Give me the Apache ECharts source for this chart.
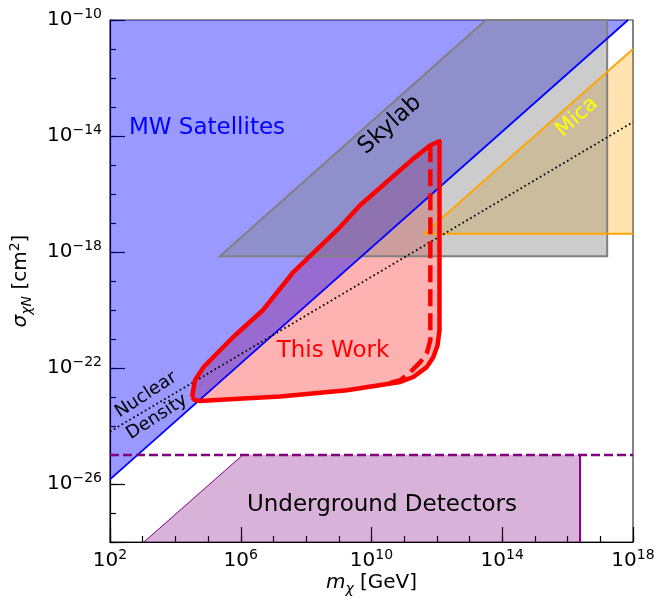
<!DOCTYPE html>
<html>
<head>
<meta charset="utf-8">
<script src="https://cdn.jsdelivr.net/npm/echarts@6/dist/echarts.min.js"></script>
<style>
  html, body { margin: 0; padding: 0; background: #fff; }
  #chart { width: 667px; height: 598px; }
</style>
</head>
<body>
<div id="chart"></div>
<script>
// every value is a log10 exponent: x = log10(m / GeV), y = log10(sigma / cm^2)
const X_TICK_LABELS = [2, 6, 10, 14, 18];
const Y_TICK_LABELS = [-26, -22, -18, -14, -10];

const mwSatellites = [[2, -25.84], [17.85, -10], [2, -10]];
const mwEdge = [[2, -25.84], [17.85, -10]];
const skylab = [[5.36, -18.15], [13.5, -10], [17.21, -10], [17.21, -18.15]];
const mica = [[11.61, -17.37], [18, -11.0], [18, -17.37]];
const micaEdge = [[18, -11.0], [11.61, -17.37], [18, -17.37]];
const underground = [[3.04, -28], [6.06, -25], [16.38, -25], [16.38, -28]];
const undergroundDiag = [[3.04, -28], [6.06, -25]];
const undergroundEdge = [[16.38, -25], [16.38, -28]];
const undergroundLimit = [[2, -25], [18, -25]];
const nuclearDensity = [[2, -24.19], [18, -13.52]];

const thisWork = [
  [4.51, -23.0], [4.53, -22.88], [4.60, -22.42], [4.86, -21.97], [5.27, -21.50],
  [5.77, -20.93], [6.69, -19.99], [7.61, -18.69], [9.04, -17.14], [9.65, -16.39],
  [11.28, -14.78], [11.80, -14.32], [12.08, -14.18], [12.08, -20.70], [12.02, -21.22],
  [11.89, -21.63], [11.69, -21.97], [11.28, -22.31], [10.88, -22.48], [9.25, -22.77],
  [7.20, -22.98], [5.67, -23.08], [4.75, -23.14], [4.59, -23.10], [4.51, -23.0]
];
const thisWorkDashed = [
  [11.80, -14.32], [11.80, -21.05], [11.70, -21.46], [11.49, -21.80],
  [11.18, -22.15], [10.88, -22.42], [10.42, -22.56]
];

const FONT = '"DejaVu Sans"';

function polygon(pts, fill, stroke, lineWidth) {
  return {
    type: 'custom',
    coordinateSystem: 'cartesian2d',
    silent: true,
    data: pts,
    renderItem: function (params, api) {
      if (params.dataIndex !== 0) return null;
      return {
        type: 'polygon',
        shape: { points: pts.map(function (p) { return api.coord(p); }) },
        style: { fill: fill, stroke: stroke || 'none', lineWidth: lineWidth || 0 }
      };
    }
  };
}

function line(pts, color, width, type) {
  return {
    type: 'line',
    data: pts,
    symbol: 'none',
    silent: true,
    lineStyle: { color: color, width: width, type: type || 'solid', join: 'round', cap: 'butt' }
  };
}

function label(text, x, y, color, size, deg) {
  return {
    type: 'text', x: x, y: y, z: 100, silent: true,
    rotation: (deg || 0) * Math.PI / 180,
    style: { text: text, fill: color, fontSize: size, fontFamily: FONT, align: 'center', verticalAlign: 'middle' }
  };
}

const tickRich = {
  b: { fontSize: 20, lineHeight: 26, fontFamily: FONT, color: '#000' },
  s: { fontSize: 14, lineHeight: 16, verticalAlign: 'top', fontFamily: FONT, color: '#000' }
};
const nameRich = {
  i: { fontSize: 20, lineHeight: 26, fontStyle: 'italic', fontFamily: FONT, color: '#000' },
  n: { fontSize: 20, lineHeight: 26, fontFamily: FONT, color: '#000' },
  sub: { fontSize: 14, lineHeight: 14, verticalAlign: 'bottom', fontStyle: 'italic', fontFamily: FONT, color: '#000' },
  sup: { fontSize: 14, lineHeight: 16, verticalAlign: 'top', fontFamily: FONT, color: '#000' }
};
function expLabel(e) {
  return '{b|10}{s|' + String(e).replace('-', '\u2212') + '}';
}

const chart = echarts.init(document.getElementById('chart'), null, { renderer: 'canvas' });

const minorAxis = {
  type: 'value', interval: 1,
  axisLine: { show: true, onZero: false, lineStyle: { color: '#000', width: 1.2 } },
  axisTick: { show: true, inside: true, length: 6, lineStyle: { color: '#000', width: 1.2 } },
  axisLabel: { show: false },
  splitLine: { show: false }
};
const majorAxis = {
  type: 'value', interval: 4,
  axisLine: { show: false, onZero: false },
  axisTick: { show: true, inside: true, length: 15, lineStyle: { color: '#000', width: 1.2 } },
  splitLine: { show: false }
};

chart.setOption({
  animation: false,
  backgroundColor: '#fff',
  grid: {
    left: 110, top: 20, width: 523, height: 522,
    show: true, borderColor: '#333', borderWidth: 1.2,
    outerBoundsMode: 'none'
  },
  xAxis: [
    Object.assign({}, minorAxis, {
      position: 'bottom', min: 2, max: 18,
      name: '{i|m}{sub|\u03c7}{n| [GeV]}',
      nameLocation: 'middle', nameGap: 28,
      nameTextStyle: { rich: nameRich }
    }),
    Object.assign({}, majorAxis, {
      position: 'bottom', min: 0, max: 16,
      axisLabel: {
        margin: 6,
        rich: tickRich,
        formatter: function (v) {
          const e = v + 2;
          return X_TICK_LABELS.indexOf(e) >= 0 ? expLabel(e) : '';
        }
      }
    })
  ],
  yAxis: [
    Object.assign({}, minorAxis, {
      position: 'left', min: -28, max: -10,
      name: '{i|\u03c3}{sub|\u03c7N}{n| [cm}{sup|2}{n|]}',
      nameLocation: 'middle', nameGap: 76, nameRotate: 90,
      nameTextStyle: { rich: nameRich }
    }),
    Object.assign({}, majorAxis, {
      // decoration axis: value v maps to exponent -10 - v
      position: 'left', min: 0, max: 18, inverse: true,
      axisLabel: {
        margin: 8,
        rich: tickRich,
        formatter: function (v) {
          const e = -10 - v;
          return Y_TICK_LABELS.indexOf(e) >= 0 ? expLabel(e) : '';
        }
      }
    })
  ],
  series: [
    polygon(thisWork, 'rgba(255,0,0,0.3)'),
    polygon(mwSatellites, 'rgba(0,0,255,0.4)'),
    polygon(mica, 'rgba(255,165,0,0.3)'),
    polygon(skylab, 'rgba(128,128,128,0.4)', '#808080', 2),
    polygon(underground, 'rgba(128,0,128,0.3)'),
    line(micaEdge, '#ffa500', 1.8),
    line(mwEdge, '#0000ff', 1.8),
    line(nuclearDensity, '#000', 1.8, [1.7, 2.8]),
    line(undergroundDiag, '#800080', 1),
    line(undergroundEdge, '#800080', 2),
    line(undergroundLimit, '#800080', 2.5, [9, 4]),
    line(thisWork, '#ff0000', 4.5),
    line(thisWorkDashed, '#ff0000', 4.5, [17, 7])
  ],
  graphic: [
    label('MW Satellites', 207, 128, '#0000ff', 23),
    label('Skylab', 390, 125, '#000', 23, 42),
    label('Mica', 577, 117, '#ffff00', 21, 42),
    label('This Work', 333, 351, '#ff0000', 23),
    label('Underground Detectors', 382, 505, '#000', 23),
    label('Nuclear', 146, 395, '#000', 18, 33),
    label('Density', 157, 417, '#000', 18, 33)
  ]
});
</script>
</body>
</html>
